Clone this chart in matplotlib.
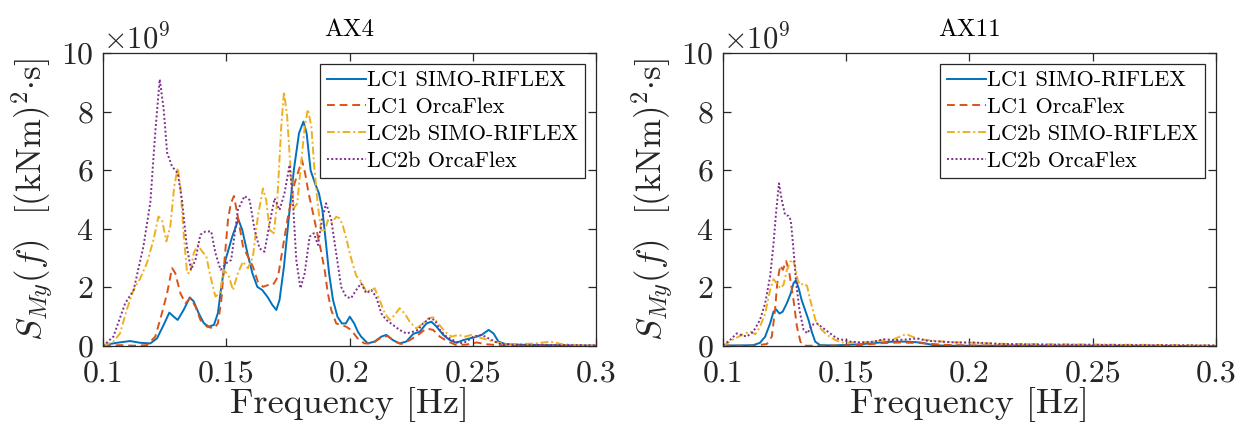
import matplotlib
matplotlib.use("Agg")
import matplotlib.pyplot as plt
import numpy as np
from matplotlib.ticker import ScalarFormatter

# ────── Style ──────

plt.rcParams["font.family"] = "cmr10"
plt.rcParams["mathtext.fontset"] = "cm"
plt.rcParams["axes.formatter.use_mathtext"] = True

C_BLUE   = "#0072BD"
C_RED    = "#D95319"
C_YELLOW = "#EDB120"
C_PURPLE = "#7E2F8E"
C_AXIS   = "#262626"

SCALE = 1e9   # values below are in units of 1e9 (kNm)^2 s

LABELS = ["LC1 SIMO-RIFLEX", "LC1 OrcaFlex", "LC2b SIMO-RIFLEX", "LC2b OrcaFlex"]
STYLES = [(C_BLUE, "-"), (C_RED, (0, (4, 2.5))), (C_YELLOW, (0, (4, 1.5, 1, 1.5))), (C_PURPLE, (0, (1, 1.2)))]

X_TICKS = [0.1, 0.15, 0.2, 0.25, 0.3]
Y_TICKS = [0, 2, 4, 6, 8, 10]

# ────── Data: AX4 ──────

ax4_lc1_simo_f = [0.100, 0.1056, 0.111, 0.1151, 0.1192, 0.1219, 0.1246, 0.1269, 0.1287, 0.1303,
                  0.1327, 0.1352, 0.1368, 0.1388, 0.1409, 0.1429, 0.145, 0.1466, 0.148, 0.1497,
                  0.1524, 0.1549, 0.1565, 0.1586, 0.1606, 0.1626, 0.1646, 0.1667, 0.1687, 0.1703,
                  0.1716, 0.1734, 0.1754, 0.1774, 0.1795, 0.1813, 0.1826, 0.1842, 0.186, 0.1876,
                  0.189, 0.1903, 0.1917, 0.1933, 0.1951, 0.1969, 0.1985, 0.2001, 0.2019, 0.2033,
                  0.2047, 0.2074, 0.2101, 0.2129, 0.2149, 0.2176, 0.2203, 0.223, 0.2258, 0.2285,
                  0.2312, 0.2332, 0.2353, 0.238, 0.2407, 0.2434, 0.2461, 0.2488, 0.2516, 0.2536,
                  0.2564, 0.2584, 0.2604, 0.2631, 0.27, 0.28, 0.29, 0.30]
ax4_lc1_simo_s = [0.03, 0.11, 0.17, 0.11, 0.09, 0.26, 0.72, 1.14, 1.0, 0.89,
                  1.23, 1.66, 1.52, 1.12, 0.78, 0.66, 0.72, 1.12, 2.03, 2.94,
                  3.73, 4.32, 3.96, 3.16, 2.48, 2.02, 1.91, 1.68, 1.4, 1.23,
                  1.57, 2.71, 4.41, 6.0, 7.26, 7.66, 7.26, 6.0, 5.55, 5.21,
                  4.64, 3.62, 2.48, 1.57, 1.0, 0.77, 0.77, 1.0, 0.77, 0.5,
                  0.32, 0.09, 0.15, 0.32, 0.38, 0.2, 0.09, 0.15, 0.41, 0.49,
                  0.77, 0.83, 0.66, 0.38, 0.2, 0.11, 0.2, 0.26, 0.32, 0.38,
                  0.55, 0.43, 0.15, 0.07, 0.04, 0.03, 0.02, 0.01]

ax4_lc1_orca_f = [0.100, 0.1069, 0.1124, 0.1178, 0.1212, 0.1239, 0.126, 0.128, 0.1293, 0.1314,
                  0.1334, 0.1354, 0.1375, 0.1395, 0.1422, 0.145, 0.1466, 0.148, 0.1493, 0.1507,
                  0.1518, 0.1531, 0.1547, 0.1568, 0.1588, 0.1608, 0.1628, 0.1649, 0.1669, 0.1689,
                  0.171, 0.173, 0.175, 0.1764, 0.1777, 0.1794, 0.1807, 0.182, 0.1834, 0.1852,
                  0.1869, 0.1885, 0.1899, 0.1912, 0.1926, 0.1946, 0.1966, 0.1986, 0.2006, 0.2033,
                  0.206, 0.2094, 0.2129, 0.2156, 0.2183, 0.221, 0.2244, 0.2278, 0.2312, 0.2339,
                  0.2366, 0.24, 0.2434, 0.2475, 0.2516, 0.2555, 0.26, 0.27, 0.28, 0.29, 0.30]
ax4_lc1_orca_s = [0.0, 0.03, 0.01, 0.03, 0.32, 1.12, 1.8, 2.66, 2.49, 1.8,
                  1.46, 1.63, 1.35, 0.89, 0.66, 0.6, 0.77, 1.57, 2.94, 4.31,
                  4.85, 5.12, 4.41, 3.39, 3.05, 2.71, 2.2, 2.02, 2.08, 2.08,
                  2.37, 3.39, 4.41, 4.98, 5.55, 6.0, 6.35, 5.89, 5.21, 4.53,
                  3.85, 3.22, 2.6, 1.8, 1.23, 0.77, 0.72, 0.66, 0.55, 0.26,
                  0.09, 0.09, 0.3, 0.34, 0.15, 0.07, 0.2, 0.38, 0.6, 0.55,
                  0.32, 0.15, 0.03, 0.05, 0.12, 0.06, 0.03, 0.02, 0.02, 0.01, 0.01]

ax4_lc2b_simo_f = [0.100, 0.1042, 0.1069, 0.1096, 0.1124, 0.1151, 0.1178, 0.1205, 0.1225, 0.1239,
                   0.1257, 0.1273, 0.1289, 0.1303, 0.1314, 0.1327, 0.1341, 0.1354, 0.1368, 0.1384,
                   0.1402, 0.1419, 0.1436, 0.1456, 0.1474, 0.149, 0.1511, 0.1527, 0.1547, 0.1568,
                   0.1588, 0.1608, 0.1628, 0.1649, 0.1662, 0.1676, 0.1693, 0.1707, 0.1723, 0.1734,
                   0.1747, 0.1761, 0.1774, 0.1788, 0.1801, 0.1818, 0.1831, 0.1845, 0.1858, 0.1872,
                   0.1885, 0.1899, 0.1912, 0.1926, 0.1946, 0.196, 0.1973, 0.1986, 0.2006, 0.2027,
                   0.2047, 0.2068, 0.2088, 0.2102, 0.2122, 0.2143, 0.2163, 0.2183, 0.2203, 0.2224,
                   0.2244, 0.2271, 0.2298, 0.2319, 0.2339, 0.236, 0.2386, 0.2414, 0.2441, 0.2468,
                   0.2495, 0.2523, 0.2564, 0.262, 0.2687, 0.2755, 0.2816, 0.2864, 0.293, 0.30]
ax4_lc2b_simo_s = [0.0, 0.15, 0.43, 1.23, 1.92, 2.31, 2.83, 3.63, 4.42, 4.31,
                   3.57, 4.08, 5.45, 6.08, 5.45, 3.85, 2.49, 2.49, 3.17, 3.45,
                   3.23, 3.06, 2.37, 1.69, 1.8, 2.6, 2.37, 1.91, 2.48, 2.88,
                   2.65, 3.05, 4.41, 5.38, 4.98, 3.96, 3.85, 4.98, 7.49, 8.68,
                   7.83, 6.0, 4.7, 4.87, 6.0, 7.49, 8.08, 7.49, 6.0, 4.76,
                   3.96, 3.9, 4.3, 4.19, 4.41, 4.36, 4.1, 3.7, 3.0, 2.4,
                   2.2, 1.85, 1.91, 1.97, 1.57, 1.11, 0.89, 1.06, 1.29, 1.11,
                   0.83, 0.6, 0.77, 0.94, 0.98, 0.77, 0.49, 0.32, 0.38, 0.32,
                   0.38, 0.3, 0.2, 0.08, 0.06, 0.09, 0.15, 0.06, 0.03, 0.01]

ax4_lc2b_orca_f = [0.100, 0.1042, 0.109, 0.1124, 0.1164, 0.1192, 0.1212, 0.123, 0.1246, 0.126,
                   0.128, 0.1303, 0.132, 0.134, 0.1357, 0.1375, 0.1395, 0.1416, 0.1439, 0.1456,
                   0.1477, 0.1499, 0.152, 0.1547, 0.1574, 0.1595, 0.1615, 0.1635, 0.1655, 0.1676,
                   0.1696, 0.1716, 0.1736, 0.1757, 0.177, 0.1784, 0.1801, 0.1818, 0.1838, 0.1855,
                   0.1872, 0.1888, 0.1905, 0.1926, 0.1946, 0.1966, 0.1986, 0.2006, 0.2027, 0.2047,
                   0.2068, 0.2088, 0.2108, 0.2129, 0.2149, 0.2176, 0.2203, 0.223, 0.2258, 0.2278,
                   0.2298, 0.2325, 0.2346, 0.2366, 0.2393, 0.242, 0.2448, 0.2475, 0.2502, 0.2536,
                   0.2564, 0.259, 0.2618, 0.27, 0.28, 0.29, 0.30]
ax4_lc2b_orca_s = [0.0, 0.32, 1.46, 1.9, 3.4, 4.9, 7.3, 9.1, 8.1, 6.6,
                   6.13, 5.9, 5.0, 3.4, 2.6, 2.94, 3.8, 3.91, 3.91, 3.17,
                   2.6, 2.82, 2.94, 4.64, 5.12, 4.98, 3.96, 3.33, 3.22, 4.19,
                   5.04, 4.64, 5.21, 6.18, 4.98, 2.94, 1.97, 2.48, 3.73, 3.85,
                   3.45, 4.3, 4.87, 4.3, 3.16, 2.02, 1.68, 1.63, 1.91, 2.14,
                   1.8, 1.91, 1.68, 1.11, 0.89, 0.72, 0.55, 0.43, 0.49, 0.55,
                   0.77, 0.94, 0.89, 0.55, 0.32, 0.2, 0.09, 0.15, 0.32, 0.38,
                   0.26, 0.15, 0.05, 0.04, 0.04, 0.03, 0.02]

# ────── Data: AX11 ──────

ax11_lc1_simo_f = [0.100, 0.107, 0.1123, 0.115, 0.1171, 0.1191, 0.1205, 0.1215, 0.1229, 0.1242,
                   0.1259, 0.1275, 0.1286, 0.1296, 0.1307, 0.1319, 0.1333, 0.1347, 0.136, 0.1374,
                   0.1394, 0.145, 0.1557, 0.1638, 0.1692, 0.1747, 0.1801, 0.1855, 0.19, 0.2, 0.25, 0.30]
ax11_lc1_simo_s = [0.02, 0.02, 0.03, 0.11, 0.32, 0.77, 1.17, 1.25, 1.11, 1.17,
                   1.46, 1.8, 2.14, 2.25, 1.97, 1.57, 1.23, 0.89, 0.49, 0.15,
                   0.03, 0.02, 0.06, 0.12, 0.15, 0.15, 0.12, 0.03, 0.01, 0.01, 0.01, 0.0]

ax11_lc1_orca_f = [0.100, 0.1123, 0.1178, 0.1198, 0.1211, 0.122, 0.1232, 0.1243, 0.1256, 0.1268,
                   0.1286, 0.13, 0.1314, 0.1327, 0.14, 0.155, 0.165, 0.172, 0.18, 0.19, 0.2, 0.25, 0.30]
ax11_lc1_orca_s = [0.01, 0.01, 0.07, 0.32, 1.23, 2.14, 2.75, 2.6, 2.9, 2.55,
                   1.57, 0.66, 0.15, 0.01, 0.01, 0.03, 0.1, 0.12, 0.1, 0.04, 0.02, 0.01, 0.0]

ax11_lc2b_simo_f = [0.100, 0.1042, 0.1083, 0.111, 0.1131, 0.115, 0.1171, 0.1191, 0.1205, 0.1218,
                    0.1232, 0.1245, 0.1259, 0.1273, 0.1284, 0.1293, 0.1303, 0.1314, 0.1327, 0.1341,
                    0.1354, 0.1375, 0.1395, 0.1422, 0.1456, 0.149, 0.153, 0.1584, 0.1638, 0.1692,
                    0.1726, 0.1744, 0.1767, 0.1801, 0.1855, 0.1923, 0.2018, 0.2153, 0.23, 0.25, 0.27, 0.30]
ax11_lc2b_simo_s = [0.0, 0.23, 0.4, 0.5, 0.4, 0.66, 1.11, 1.91, 2.28, 2.14,
                    1.97, 2.08, 2.59, 2.88, 2.94, 2.71, 2.25, 2.08, 2.14, 2.05,
                    1.57, 0.89, 0.6, 0.38, 0.2, 0.11, 0.12, 0.13, 0.18, 0.23,
                    0.35, 0.41, 0.32, 0.23, 0.18, 0.13, 0.11, 0.07, 0.06, 0.05, 0.04, 0.02]

ax11_lc2b_orca_f = [0.100, 0.1028, 0.1056, 0.1096, 0.1123, 0.115, 0.1171, 0.1191, 0.1205, 0.1215,
                    0.1227, 0.1238, 0.1252, 0.1266, 0.1275, 0.1286, 0.1297, 0.131, 0.1327, 0.1343,
                    0.136, 0.1381, 0.1408, 0.1435, 0.1462, 0.149, 0.1517, 0.1557, 0.1611, 0.1652,
                    0.1692, 0.174, 0.1787, 0.1828, 0.1882, 0.195, 0.2018, 0.2126, 0.23, 0.25, 0.27, 0.30]
ax11_lc2b_orca_s = [0.03, 0.2, 0.43, 0.32, 0.49, 0.89, 1.46, 2.37, 3.5, 4.53,
                    5.55, 5.0, 4.47, 4.44, 4.3, 3.28, 2.14, 1.23, 0.55, 0.43,
                    0.72, 0.77, 0.6, 0.43, 0.26, 0.2, 0.15, 0.12, 0.15, 0.23,
                    0.2, 0.22, 0.26, 0.18, 0.15, 0.12, 0.12, 0.07, 0.05, 0.04, 0.03, 0.02]

PANELS = [
    ("AX4", [(ax4_lc1_simo_f, ax4_lc1_simo_s), (ax4_lc1_orca_f, ax4_lc1_orca_s),
             (ax4_lc2b_simo_f, ax4_lc2b_simo_s), (ax4_lc2b_orca_f, ax4_lc2b_orca_s)]),
    ("AX11", [(ax11_lc1_simo_f, ax11_lc1_simo_s), (ax11_lc1_orca_f, ax11_lc1_orca_s),
              (ax11_lc2b_simo_f, ax11_lc2b_simo_s), (ax11_lc2b_orca_f, ax11_lc2b_orca_s)]),
]

# ────── Figure ──────

fig = plt.figure(figsize=(12.47, 4.38), dpi=100)
fig.patch.set_facecolor("white")

rects = [[0.0826, 0.21, 0.3954, 0.669],
         [0.5798, 0.21, 0.3953, 0.669]]

for rect, (title, series) in zip(rects, PANELS):
    ax = fig.add_axes(rect)
    for (f, s), label, (color, ls) in zip(series, LABELS, STYLES):
        ax.plot(f, np.array(s) * SCALE, color=color, linestyle=ls, lw=1.4, label=label)

    ax.set_xlim(0.1, 0.3)
    ax.set_ylim(0, 10 * SCALE)
    ax.set_xticks(X_TICKS, [f"{t:g}" for t in X_TICKS])
    ax.set_yticks(np.array(Y_TICKS) * SCALE)

    fmt = ScalarFormatter(useMathText=True)
    fmt.set_powerlimits((9, 9))
    ax.yaxis.set_major_formatter(fmt)
    ax.yaxis.get_offset_text().set_fontsize(22)
    ax.yaxis.get_offset_text().set_color(C_AXIS)

    ax.tick_params(direction="in", top=True, right=True, length=6, width=0.9,
                   labelsize=23, colors=C_AXIS)
    ax.tick_params(axis="x", pad=10)
    ax.tick_params(axis="y", pad=7)
    for sp in ax.spines.values():
        sp.set_color(C_AXIS)
        sp.set_linewidth(0.9)

    ax.set_title(title, fontsize=18, color="black", pad=12)
    ax.set_xlabel("Frequency [Hz]", fontsize=26, color=C_AXIS, labelpad=0)
    ax.set_ylabel(r"$S_{My}(f)$  [(kNm)$^2{\cdot}$s]", fontsize=25, color=C_AXIS, labelpad=4)

    leg = ax.legend(loc="upper right", fontsize=16, frameon=True, fancybox=False,
                    framealpha=1, edgecolor=C_AXIS, handlelength=1.75, handletextpad=0.05,
                    labelspacing=0.33, borderpad=0.3, borderaxespad=0.5)
    leg.get_frame().set_linewidth(0.9)

fig.savefig("out.png", dpi=100)
